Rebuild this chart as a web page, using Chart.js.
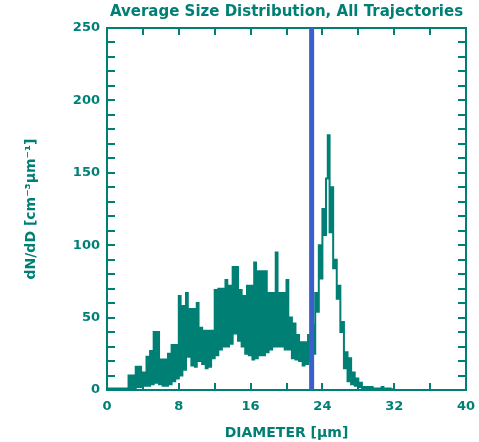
<!DOCTYPE html>
<html>
<head>
<meta charset="utf-8">
<script src="https://cdn.jsdelivr.net/npm/chart.js@4"></script>
<style>
  html, body { margin: 0; padding: 0; background: #ffffff; }
  #wrap { width: 479px; height: 442px; }
</style>
</head>
<body>
<div id="wrap"><canvas id="myChart" width="479" height="442"></canvas></div>
<script>
// diametro (um) e dN/dD
const diametro = [
  0, 0.2, 0.4, 0.6, 0.8, 1, 1.2, 1.4, 1.6, 1.8,
  2, 2.2, 2.4, 2.6, 2.8, 3, 3.2, 3.4, 3.6, 3.8,
  4, 4.2, 4.4, 4.6, 4.8, 5, 5.2, 5.4, 5.6, 5.8,
  6, 6.2, 6.4, 6.6, 6.8, 7, 7.2, 7.4, 7.6, 7.8,
  8, 8.2, 8.4, 8.6, 8.8, 9, 9.2, 9.4, 9.6, 9.8,
  10, 10.2, 10.4, 10.6, 10.8, 11, 11.2, 11.4, 11.6, 11.8,
  12, 12.2, 12.4, 12.6, 12.8, 13, 13.2, 13.4, 13.6, 13.8,
  14, 14.2, 14.4, 14.6, 14.8, 15, 15.2, 15.4, 15.6, 15.8,
  16, 16.2, 16.4, 16.6, 16.8, 17, 17.2, 17.4, 17.6, 17.8,
  18, 18.2, 18.4, 18.6, 18.8, 19, 19.2, 19.4, 19.6, 19.8,
  20, 20.2, 20.4, 20.6, 20.8, 21, 21.2, 21.4, 21.6, 21.8,
  22, 22.2, 22.4, 22.6, 22.8, 23, 23.2, 23.4, 23.6, 23.8,
  24, 24.2, 24.4, 24.6, 24.8, 25, 25.2, 25.4, 25.6, 25.8,
  26, 26.2, 26.4, 26.6, 26.8, 27, 27.2, 27.4, 27.6, 27.8,
  28, 28.2, 28.4, 28.6, 28.8, 29, 29.2, 29.4, 29.6, 29.8,
  30, 30.2, 30.4, 30.6, 30.8, 31, 31.2, 31.4, 31.6, 31.8,
  32, 40
];
const dNdD = [
  1, 0.5, 1, 0.5, 1, 0.5, 1, 0.5, 1, 0.5,
  1, 0.5, 10, 1, 10, 1, 16, 2, 16, 2,
  12, 3, 23, 3, 27, 4, 40, 5, 40, 4,
  21, 3, 21, 3, 25, 4, 31, 6, 31, 8,
  65, 10, 58, 14, 67, 23, 56, 17, 56, 16,
  60, 20, 43, 18, 41, 15, 41, 16, 41, 22,
  69, 24, 70, 28, 70, 30, 76, 30, 72, 32,
  85, 39, 85, 34, 69, 30, 65, 25, 72, 24,
  72, 21, 88, 22, 82, 24, 82, 24, 82, 26,
  67, 28, 67, 30, 95, 30, 67, 30, 67, 28,
  76, 28, 50, 22, 46, 21, 38, 20, 33, 17,
  33, 18, 38, 20, 45, 25, 67, 54, 100, 77,
  125, 107, 146, 176, 109, 140, 84, 90, 63, 72,
  40, 47, 15, 26, 6, 22, 4, 12, 3, 8,
  2, 5, 1, 2, 0.5, 2, 0.5, 2, 0.5, 1,
  0.3, 1, 0.3, 2, 0.3, 1, 0.3, 1, 0, 0.5,
  0, 0
];
const linhaCorte = 22.8;   // linha azul vertical
const xRotulos = [0, 8, 16, 24, 32, 40];
const xMarcas = [4, 8, 12, 16, 20, 24, 28, 32, 36];
const yMarcas = [10, 20, 30, 40, 50, 60, 70, 80, 90, 100, 110, 120, 130, 140, 150, 160, 170, 180, 190, 200, 210, 220, 230, 240];

const verde = '#008075';
const azul = '#3a5fcd';
const fonte = "'DejaVu Sans', sans-serif";

let pontos = [];
for (let i = 0; i < diametro.length; i++) {
  pontos.push({ x: diametro[i], y: dNdD[i] });
}

// moldura e marcas para dentro, estilo IDL
const moldura = {
  id: 'moldura',
  beforeDatasetsDraw(chart) {
    const { ctx, chartArea: a, scales: { x, y } } = chart;
    ctx.save();
    ctx.strokeStyle = verde;
    ctx.lineWidth = 2;
    ctx.strokeRect(a.left, a.top, a.right - a.left, a.bottom - a.top);
    ctx.beginPath();
    xMarcas.forEach(v => {
      const p = Math.round(x.getPixelForValue(v));
      ctx.moveTo(p, a.bottom); ctx.lineTo(p, a.bottom - 7);
      ctx.moveTo(p, a.top); ctx.lineTo(p, a.top + 7);
    });
    yMarcas.forEach(v => {
      const p = Math.round(y.getPixelForValue(v));
      ctx.moveTo(a.left, p); ctx.lineTo(a.left + 8, p);
      ctx.moveTo(a.right, p); ctx.lineTo(a.right - 8, p);
    });
    ctx.stroke();
    ctx.restore();
  }
};

const config = {
  type: 'line',
  data: {
    datasets: [
      {
        label: 'corte',
        data: [{ x: linhaCorte, y: 0 }, { x: linhaCorte, y: 250 }],
        borderColor: azul,
        borderWidth: 5,
        pointRadius: 0,
        order: 0
      },
      {
        label: 'dN/dD',
        data: pontos,
        borderColor: verde,
        borderWidth: 2,
        stepped: true,
        pointRadius: 0,
        fill: false,
        order: 1
      }
    ]
  },
  options: {
    responsive: false,
    animation: false,
    layout: { padding: { left: 0, right: 13, top: 0, bottom: 0 } },
    plugins: {
      legend: { display: false },
      tooltip: { enabled: false },
      title: {
        display: true,
        fullSize: false,
        text: 'Average Size Distribution, All Trajectories',
        color: verde,
        font: { family: fonte, size: 15, weight: 'bold' },
        padding: { top: 3, bottom: 7 }
      }
    },
    scales: {
      x: {
        type: 'linear',
        min: 0,
        max: 40,
        afterFit: (s) => { s.height = 52; s.paddingRight = 0; s.paddingLeft = 0; },
        grid: { display: false, drawTicks: false },
        border: { display: false },
        ticks: {
          stepSize: 4,
          autoSkip: false,
          maxRotation: 0,
          padding: 9,
          color: verde,
          font: { family: fonte, size: 13, weight: 'bold' },
          callback: (v) => xRotulos.includes(v) ? v : ''
        },
        title: {
          display: true,
          text: 'DIAMETER [μm]',
          color: verde,
          font: { family: fonte, size: 14, weight: 'bold' },
          padding: { top: 6, bottom: 0 }
        }
      },
      y: {
        min: 0,
        max: 250,
        afterFit: (s) => { s.width = 107; },
        grid: { display: false, drawTicks: false },
        border: { display: false },
        ticks: {
          stepSize: 50,
          padding: 7,
          color: verde,
          font: { family: fonte, size: 13, weight: 'bold' }
        },
        title: {
          display: true,
          text: 'dN/dD [cm⁻³μm⁻¹]',
          color: verde,
          font: { family: fonte, size: 14, weight: 'bold' },
          padding: { top: 23, bottom: 0 }
        }
      }
    }
  },
  plugins: [moldura]
};

let myChart = new Chart(document.getElementById('myChart'), config);
</script>
</body>
</html>
